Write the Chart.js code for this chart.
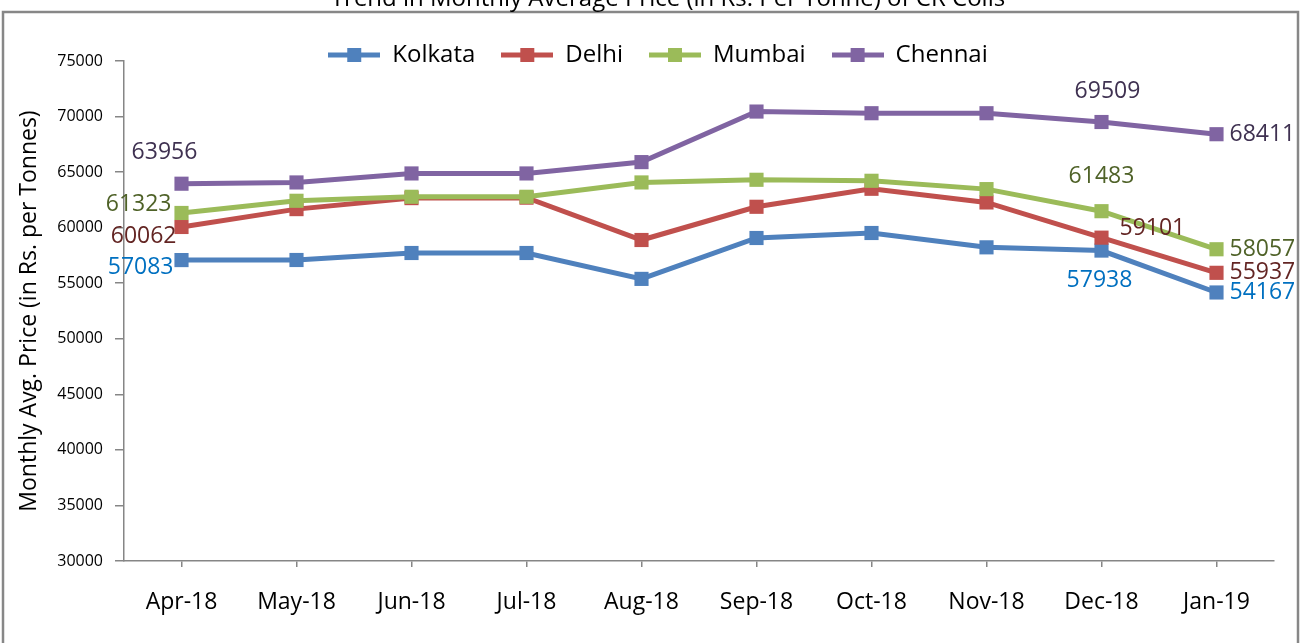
<!DOCTYPE html>
<html>
<head>
<meta charset="utf-8">
<script src="https://cdn.jsdelivr.net/npm/chart.js@4/dist/chart.umd.min.js"></script>
<style>
  html, body { margin: 0; padding: 0; background: #fff; }
  #wrap { position: relative; width: 1300px; height: 643px; }
</style>
</head>
<body>
<div id="wrap"><canvas id="cv"></canvas></div>
<script>
'use strict';

// ---- data ----
const months  = ['Apr-18', 'May-18', 'Jun-18', 'Jul-18', 'Aug-18', 'Sep-18', 'Oct-18', 'Nov-18', 'Dec-18', 'Jan-19'];
const kolkata = [57083, 57090, 57720, 57720, 55390, 59070, 59520, 58230, 57938, 54167];
const delhi   = [60062, 61670, 62660, 62700, 58890, 61880, 63500, 62270, 59101, 55937];
const mumbai  = [61323, 62420, 62780, 62780, 64070, 64310, 64220, 63470, 61483, 58057];
const chennai = [63956, 64070, 64880, 64880, 65900, 70450, 70300, 70300, 69509, 68411];
const yTicks  = { min: 30000, max: 75000, step: 5000 };

const FONT = "'Open Sans', 'Noto Sans', sans-serif";

// line colour / label colour per series
const series = [
    { name: 'Kolkata', data: kolkata, color: '#4F81BD', labelColor: '#0070C0' },
    { name: 'Delhi',   data: delhi,   color: '#C0504D', labelColor: '#632523' },
    { name: 'Mumbai',  data: mumbai,  color: '#9BBB59', labelColor: '#4F6228' },
    { name: 'Chennai', data: chennai, color: '#8064A2', labelColor: '#3F3151' },
];

// where the value labels sit relative to their point (style only)
const labelPos = [
    [{ i: 0, dx: -8, dy: 7, align: 'right' }, { i: 8, dx: -2, dy: 30, align: 'center' }, { i: 9, dx: 13, dy: 0, align: 'left' }],
    [{ i: 0, dx: -5, dy: 9, align: 'right' }, { i: 8, dx: 18, dy: -9, align: 'left' },   { i: 9, dx: 13, dy: 0, align: 'left' }],
    [{ i: 0, dx: -10, dy: -9, align: 'right' }, { i: 8, dx: 0, dy: -35, align: 'center' }, { i: 9, dx: 13, dy: 0, align: 'left' }],
    [{ i: 0, dx: -17, dy: -31, align: 'center' }, { i: 8, dx: 6, dy: -31, align: 'center' }, { i: 9, dx: 13, dy: 0, align: 'left' }],
];

// legend symbol: short line with a square marker
const mkIcon = (color) => {
    const c = document.createElement('canvas');
    c.width = 52; c.height = 16;
    const g = c.getContext('2d');
    g.strokeStyle = color; g.lineWidth = 5;
    g.beginPath(); g.moveTo(0, 8); g.lineTo(52, 8); g.stroke();
    g.fillStyle = color;
    g.fillRect(19, 1, 14, 14);
    return c;
};
const icons = series.map(s => mkIcon(s.color));

// frame + clipped title, like the source image
const framePlugin = {
    id: 'frame',
    afterLayout(chart) {
        // legend sits closer to the plot (and a bit right) than Chart.js spaces it
        const lg = chart.legend;
        if (lg) { lg.top += 16; lg.bottom += 16; lg.left += 14; lg.right += 14; }
    },
    beforeDraw(chart) {
        const { ctx, width, height } = chart;
        ctx.save();
        ctx.fillStyle = '#fff';
        ctx.fillRect(0, 0, width, height);
        ctx.strokeStyle = '#878787';
        ctx.lineWidth = 2.5;
        ctx.strokeRect(3, 12, width - 5, height);
        ctx.fillStyle = '#000';
        ctx.font = `24px ${FONT}`;
        ctx.textAlign = 'center';
        ctx.textBaseline = 'alphabetic';
        ctx.fillText('Trend in Monthly Average Price (in Rs. Per Tonne) of CR Coils', 668, 6);
        ctx.restore();
    }
};

const valueLabels = {
    id: 'valueLabels',
    afterDatasetsDraw(chart) {
        const { ctx } = chart;
        ctx.save();
        ctx.font = `23px ${FONT}`;
        ctx.textBaseline = 'middle';
        series.forEach((s, di) => {
            const meta = chart.getDatasetMeta(di);
            labelPos[di].forEach(p => {
                const pt = meta.data[p.i];
                ctx.fillStyle = s.labelColor;
                ctx.textAlign = p.align;
                ctx.fillText(String(s.data[p.i]), pt.x + p.dx, pt.y + p.dy);
            });
        });
        ctx.restore();
    }
};

new Chart(document.getElementById('cv'), {
    type: 'line',
    data: {
        labels: months,
        datasets: series.map((s, i) => ({
            label: s.name,
            data: s.data,
            borderColor: s.color,
            backgroundColor: s.color,
            borderWidth: 5,
            tension: 0,
            pointStyle: 'rect',
            pointRadius: 10,
            pointHoverRadius: 10,
            pointBorderWidth: 0,
            order: 4 - i,
        }))
    },
    options: {
        responsive: true,
        maintainAspectRatio: false,
        animation: false,
        layout: { padding: { left: 14, right: 26, top: 1, bottom: 0 } },
        plugins: {
            tooltip: { enabled: false },
            legend: {
                position: 'top',
                labels: {
                    usePointStyle: true,
                    pointStyleWidth: 52,
                    padding: 26,
                    color: '#000',
                    font: { family: FONT, size: 24 },
                    sort: (a, b) => a.datasetIndex - b.datasetIndex,
                    generateLabels: (chart) => {
                        const items = Chart.defaults.plugins.legend.labels.generateLabels(chart);
                        items.forEach(it => { it.pointStyle = icons[it.datasetIndex]; });
                        return items;
                    }
                }
            }
        },
        scales: {
            x: {
                offset: true,
                grid: { display: true, drawOnChartArea: false, offset: false, tickLength: 6, color: '#868686', lineWidth: 1.5 },
                border: { color: '#868686', width: 1.5 },
                ticks: { color: '#000', font: { family: FONT, size: 23 }, padding: 22, maxRotation: 0 },
                afterFit: (scale) => { scale.height = 82; }
            },
            y: {
                min: yTicks.min, max: yTicks.max,
                grid: { display: true, drawOnChartArea: false, tickLength: 9, color: '#868686', lineWidth: 1.5 },
                border: { color: '#868686', width: 1.5 },
                ticks: { stepSize: yTicks.step, color: '#000', font: { family: FONT, size: 16 }, padding: 12,
                         callback: (v) => String(v) },
                title: { display: true, text: 'Monthly Avg. Price (in Rs. per Tonnes)', color: '#000',
                         font: { family: FONT, size: 23 }, padding: 2 },
                afterFit: (scale) => { scale.width = 110; }
            }
        }
    },
    plugins: [framePlugin, valueLabels]
});
</script>
</body>
</html>
